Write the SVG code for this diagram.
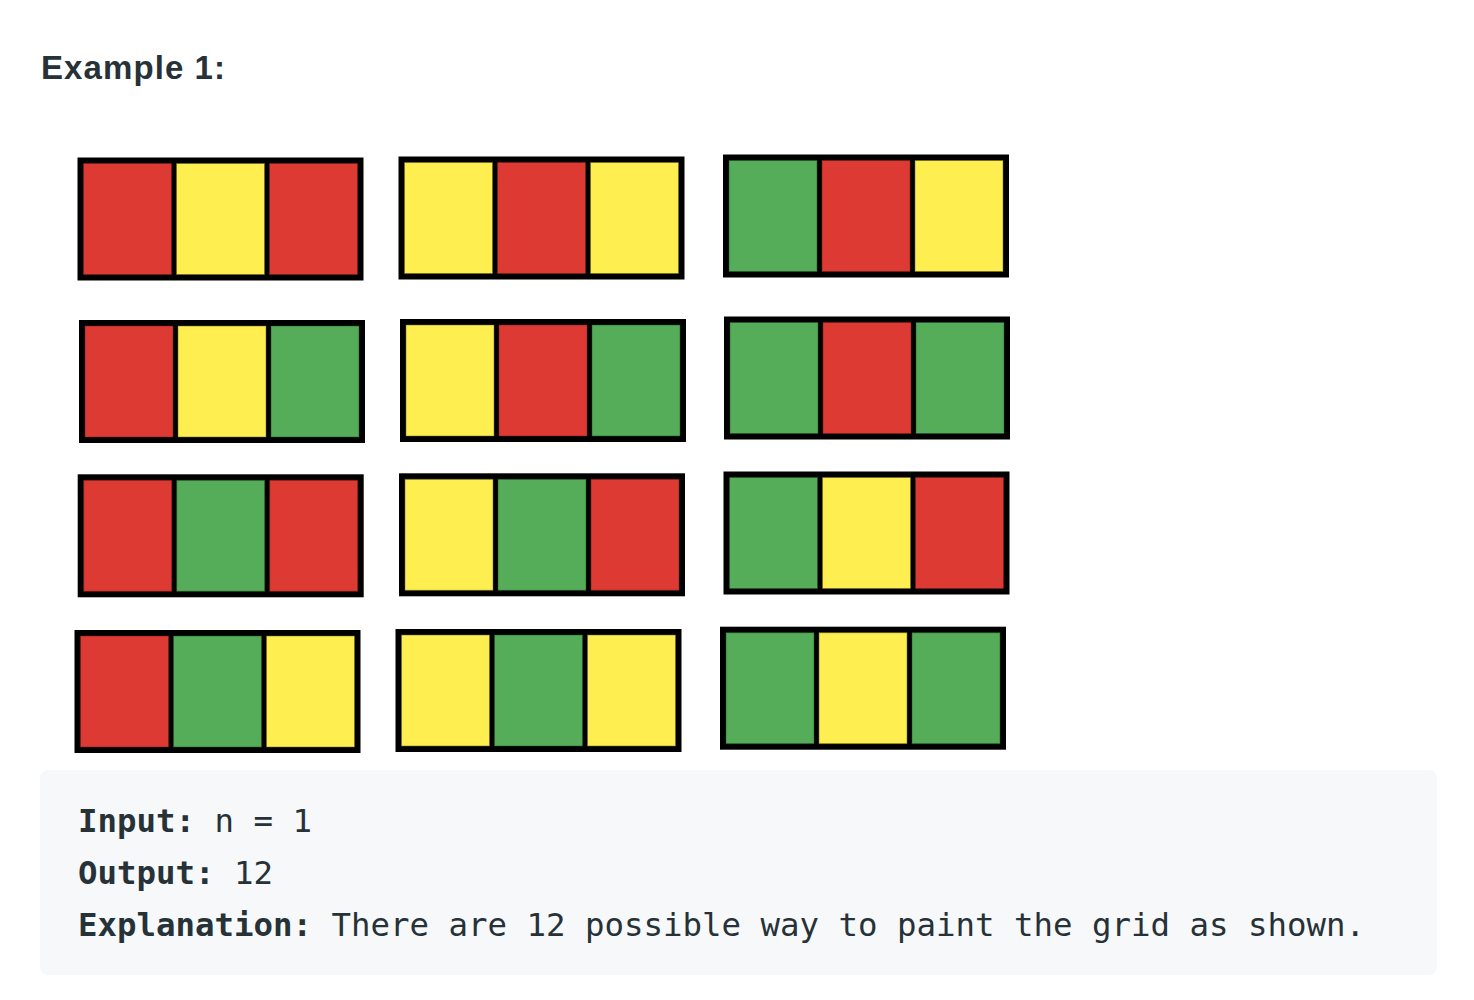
<svg xmlns="http://www.w3.org/2000/svg" width="1474" height="1000" viewBox="0 0 1474 1000">
<style>
.frame{fill:#000}
.r{fill:#dc3a33;stroke:#7a1f1b;stroke-opacity:0.5;stroke-width:1}
.y{fill:#feee50;stroke:#6b6420;stroke-opacity:0.5;stroke-width:1}
.g{fill:#56ad59;stroke:#24522a;stroke-opacity:0.5;stroke-width:1}
.title{font-family:"Liberation Sans",Arial,sans-serif;font-weight:bold;font-size:33px;fill:#263238}
.code{font-family:"DejaVu Sans Mono","Liberation Mono",monospace;font-size:32.4px;fill:#263238}
.b{font-weight:bold}
</style>
<defs>
<g id="cells">
<rect class="frame" x="0" y="0" width="286" height="123"/>
</g>
</defs>
<rect width="1474" height="1000" fill="#ffffff"/>
<text class="title" x="41" y="79" textLength="184" lengthAdjust="spacing">Example 1:</text>

<g id="grid-r1c1" transform="translate(77.5,157.5)">
<use href="#cells"/><rect class="r" x="6" y="6" width="88" height="111"/><rect class="y" x="99" y="6" width="88" height="111"/><rect class="r" x="192" y="6" width="88" height="111"/>
</g>
<g id="grid-r1c2" transform="translate(398.5,156.5)">
<use href="#cells"/><rect class="y" x="6" y="6" width="88" height="111"/><rect class="r" x="99" y="6" width="88" height="111"/><rect class="y" x="192" y="6" width="88" height="111"/>
</g>
<g id="grid-r1c3" transform="translate(723,154.5)">
<use href="#cells"/><rect class="g" x="6" y="6" width="88" height="111"/><rect class="r" x="99" y="6" width="88" height="111"/><rect class="y" x="192" y="6" width="88" height="111"/>
</g>

<g id="grid-r2c1" transform="translate(79,320)">
<use href="#cells"/><rect class="r" x="6" y="6" width="88" height="111"/><rect class="y" x="99" y="6" width="88" height="111"/><rect class="g" x="192" y="6" width="88" height="111"/>
</g>
<g id="grid-r2c2" transform="translate(400,319)">
<use href="#cells"/><rect class="y" x="6" y="6" width="88" height="111"/><rect class="r" x="99" y="6" width="88" height="111"/><rect class="g" x="192" y="6" width="88" height="111"/>
</g>
<g id="grid-r2c3" transform="translate(724,316.5)">
<use href="#cells"/><rect class="g" x="6" y="6" width="88" height="111"/><rect class="r" x="99" y="6" width="88" height="111"/><rect class="g" x="192" y="6" width="88" height="111"/>
</g>

<g id="grid-r3c1" transform="translate(77.7,474.3)">
<use href="#cells"/><rect class="r" x="6" y="6" width="88" height="111"/><rect class="g" x="99" y="6" width="88" height="111"/><rect class="r" x="192" y="6" width="88" height="111"/>
</g>
<g id="grid-r3c2" transform="translate(399,473.3)">
<use href="#cells"/><rect class="y" x="6" y="6" width="88" height="111"/><rect class="g" x="99" y="6" width="88" height="111"/><rect class="r" x="192" y="6" width="88" height="111"/>
</g>
<g id="grid-r3c3" transform="translate(723.5,471.5)">
<use href="#cells"/><rect class="g" x="6" y="6" width="88" height="111"/><rect class="y" x="99" y="6" width="88" height="111"/><rect class="r" x="192" y="6" width="88" height="111"/>
</g>

<g id="grid-r4c1" transform="translate(74.5,630)">
<use href="#cells"/><rect class="r" x="6" y="6" width="88" height="111"/><rect class="g" x="99" y="6" width="88" height="111"/><rect class="y" x="192" y="6" width="88" height="111"/>
</g>
<g id="grid-r4c2" transform="translate(395.5,629)">
<use href="#cells"/><rect class="y" x="6" y="6" width="88" height="111"/><rect class="g" x="99" y="6" width="88" height="111"/><rect class="y" x="192" y="6" width="88" height="111"/>
</g>
<g id="grid-r4c3" transform="translate(720,626.7)">
<use href="#cells"/><rect class="g" x="6" y="6" width="88" height="111"/><rect class="y" x="99" y="6" width="88" height="111"/><rect class="g" x="192" y="6" width="88" height="111"/>
</g>

<g id="connectors"></g>

<g id="example-output">
<rect x="40" y="770" width="1397" height="205" rx="8" ry="8" fill="#f7f8fa"/>
<text class="code" x="78" y="832"><tspan class="b">Input:</tspan> n = 1</text>
<text class="code" x="78" y="884"><tspan class="b">Output:</tspan> 12</text>
<text class="code" x="78" y="936"><tspan class="b">Explanation:</tspan> There are 12 possible way to paint the grid as shown.</text>
</g>
</svg>
